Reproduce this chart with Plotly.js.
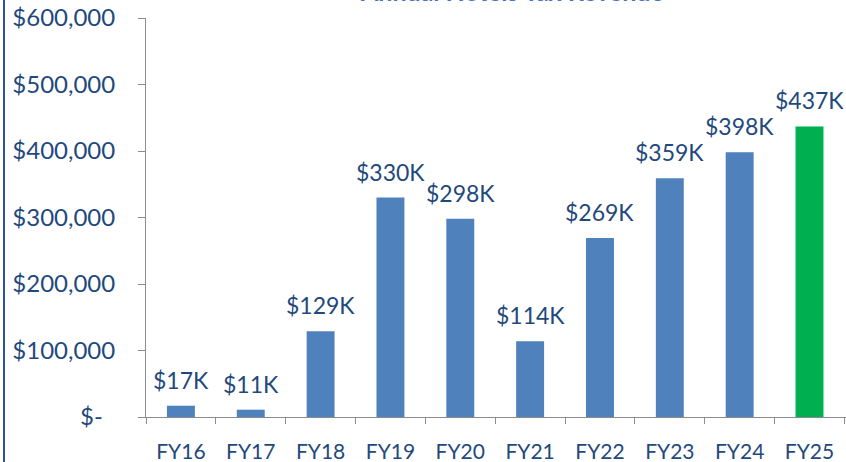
<!DOCTYPE html>
<html>
<head>
<meta charset="utf-8">
<script src="https://cdn.plot.ly/plotly-3.0.1.min.js"></script>
<style>
html,body{margin:0;padding:0;background:#fff;}
#wrap{position:relative;width:846px;height:462px;overflow:hidden;}
#chart{width:846px;height:462px;}
#edge{position:absolute;left:3px;top:0;width:2px;height:462px;background:#2F5597;}
</style>
</head>
<body>
<div id="wrap"><div id="chart"></div><div id="edge"></div></div>
<script>
const categories = ["FY16","FY17","FY18","FY19","FY20","FY21","FY22","FY23","FY24","FY25"];
const revenue = [17000, 11000, 129000, 330000, 298000, 114000, 269000, 359000, 398000, 437000];
const valueLabels = ["$17K","$11K","$129K","$330K","$298K","$114K","$269K","$359K","$398K","$437K"];
const tickVals = [0, 100000, 200000, 300000, 400000, 500000, 600000];
const tickLabels = ["$-\u00a0\u00a0","$100,000","$200,000","$300,000","$400,000","$500,000","$600,000"];
const titleText = "Annual Hotels Tax Revenue";

const txt = "#1F497D";
const fontFam = "Lato, 'Open Sans', sans-serif";
const colors = categories.map((c, i) => i === categories.length - 1 ? "#00B050" : "#4F81BD");

const trace = {
  type: "bar",
  x: categories,
  y: revenue,
  marker: {color: colors, line: {width: 0}},
  hoverinfo: "none"
};

const annotations = categories.map((c, i) => ({
  x: c, y: revenue[i], xref: "x", yref: "y",
  text: valueLabels[i], showarrow: false,
  yanchor: "bottom", yshift: 10,
  font: {family: fontFam, size: 23, color: txt}
}));

annotations.push({
  text: "<b>" + titleText + "</b>", showarrow: false,
  xref: "paper", yref: "paper", x: 0.523, y: 1.068,
  xanchor: "center", yanchor: "middle",
  font: {family: fontFam, size: 25, color: "#4472C4"}
});

const layout = {
  width: 846, height: 462,
  margin: {l: 146, r: 0, t: 18, b: 45},
  paper_bgcolor: "#fff", plot_bgcolor: "#fff",
  showlegend: false,
  bargap: 0.6,
  xaxis: {
    type: "category",
    showline: true, linecolor: "#8C8C8C", linewidth: 1,
    ticks: "outside", tickson: "boundaries", ticklen: 6, tickcolor: "#8C8C8C",
    tickfont: {family: fontFam, size: 21, color: txt},
    ticklabelstandoff: 16,
    showgrid: false, zeroline: false, fixedrange: true
  },
  yaxis: {
    range: [0, 600000],
    tickvals: tickVals, ticktext: tickLabels,
    showline: true, linecolor: "#8C8C8C", linewidth: 1,
    ticks: "outside", ticklen: 7, tickcolor: "#8C8C8C",
    tickfont: {family: fontFam, size: 24, color: txt},
    ticklabelstandoff: 18,
    showgrid: false, zeroline: false, fixedrange: true
  },
  annotations: annotations
};

Plotly.newPlot("chart", [trace], layout, {staticPlot: true, displayModeBar: false});
</script>
</body>
</html>
